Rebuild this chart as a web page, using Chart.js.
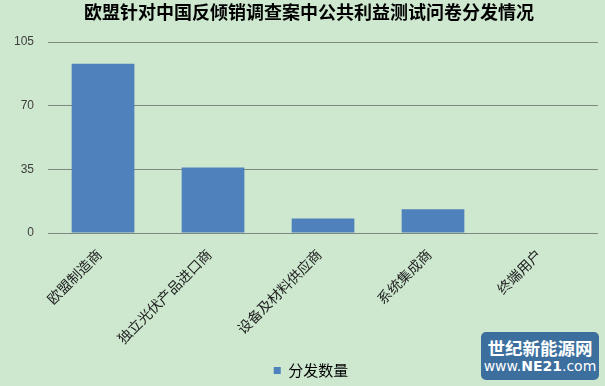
<!DOCTYPE html>
<html>
<head>
<meta charset="utf-8">
<script src="https://cdn.jsdelivr.net/npm/chart.js@4"></script>
<style>
  body { margin: 0; background: #cde8cf; }
  #wrap { position: relative; width: 605px; height: 386px; }
  #logo {
    position: absolute; left: 481px; top: 332px; width: 118px; height: 48px;
    background: #3c6f9d; border-radius: 5px; color: #fff; text-align: center;
    font-family: "Noto Sans CJK SC", sans-serif;
  }
  #logo .t { font-size: 17.5px; font-weight: bold; line-height: 20px; margin-top: 6px; }
  #logo .u { font-size: 14px; line-height: 17px; font-family: "DejaVu Sans", sans-serif; }
</style>
</head>
<body>
<div id="wrap">
  <canvas id="chart" width="605" height="386"></canvas>
  <div id="logo"><div class="t">世纪新能源网</div><div class="u">www.<b>NE21</b>.com</div></div>
</div>
<script>
const categories = ["欧盟制造商", "独立光伏产品进口商", "设备及材料供应商", "系统集成商", "终端用户"];
const counts = [93, 36, 8, 13, 0];
const yTicks = [0, 35, 70, 105];
const chartTitle = "欧盟针对中国反倾销调查案中公共利益测试问卷分发情况";

const font = "'Noto Sans CJK SC', sans-serif";

const bgPlugin = {
    id: "bg",
    beforeDraw(chart) {
        const c = chart.ctx;
        c.save();
        c.fillStyle = "#cde8cf";
        c.fillRect(0, 0, chart.width, chart.height);
        c.restore();
    }
};

// title sits a little right of centre in the original, so draw it by hand
const titlePlugin = {
    id: "offsetTitle",
    afterDraw(chart) {
        const c = chart.ctx;
        c.save();
        c.fillStyle = "#000";
        c.font = "bold 18px " + font;
        c.textAlign = "center";
        c.textBaseline = "middle";
        c.fillText(chartTitle, 309, 12);
        c.restore();
    }
};

// nudge the legend to the right like the original
const legendShift = {
    id: "legendShift",
    afterLayout(chart) {
        chart.legend.left += 12;
        chart.legend.right += 12;
    }
};

new Chart(document.getElementById("chart"), {
    type: "bar",
    data: {
        labels: categories,
        datasets: [{
            label: "分发数量",
            data: counts,
            backgroundColor: "#4f81bd",
            barPercentage: 0.57,
            categoryPercentage: 1.0
        }]
    },
    options: {
        responsive: false,
        animation: false,
        layout: { padding: { left: 0, right: 7, top: 42, bottom: -2 } },
        plugins: {
            title: { display: false },
            legend: {
                position: "bottom",
                labels: {
                    color: "#000",
                    font: { family: font, size: 15 },
                    boxWidth: 7,
                    boxHeight: 7,
                    padding: 4
                }
            },
            tooltip: { enabled: false }
        },
        scales: {
            x: {
                grid: { display: false },
                border: { display: false },
                afterFit(scale) {
                    scale.height += 7;
                },
                ticks: {
                    color: "#222",
                    font: { family: font, size: 14 },
                    maxRotation: 45,
                    minRotation: 45,
                    padding: 5,
                    labelOffset: -4
                }
            },
            y: {
                min: 0,
                max: 105,
                afterBuildTicks(axis) {
                    axis.ticks = yTicks.map(v => ({ value: v }));
                },
                grid: { color: "#808880", lineWidth: 1, drawTicks: false },
                border: { display: false },
                ticks: {
                    color: "#404040",
                    font: { family: "'Liberation Sans', sans-serif", size: 12 },
                    padding: 14
                }
            }
        }
    },
    plugins: [bgPlugin, titlePlugin, legendShift]
});
</script>
</body>
</html>
